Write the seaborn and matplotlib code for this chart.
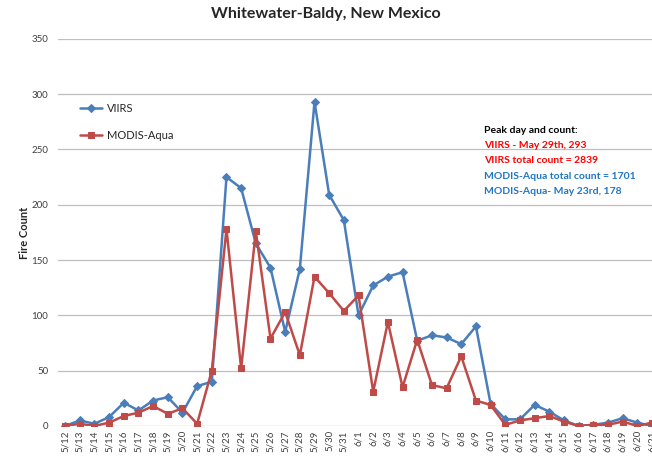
import pandas as pd
import matplotlib.pyplot as plt
import seaborn as sns

# daily fire counts, 5/12 - 6/21
dates = ['5/12', '5/13', '5/14', '5/15', '5/16', '5/17', '5/18', '5/19', '5/20', '5/21',
         '5/22', '5/23', '5/24', '5/25', '5/26', '5/27', '5/28', '5/29', '5/30', '5/31',
         '6/1', '6/2', '6/3', '6/4', '6/5', '6/6', '6/7', '6/8', '6/9', '6/10',
         '6/11', '6/12', '6/13', '6/14', '6/15', '6/16', '6/17', '6/18', '6/19', '6/20', '6/21']
viirs = [0, 5, 2, 8, 21, 14, 23, 26, 12, 36,
         40, 225, 215, 165, 143, 85, 142, 293, 209, 186,
         100, 127, 135, 139, 77, 82, 80, 74, 90, 20,
         6, 6, 19, 13, 5, 0, 1, 3, 7, 3, 0]
modis = [0, 2, 0, 3, 9, 12, 18, 11, 16, 2,
         50, 178, 52, 176, 79, 103, 64, 135, 120, 104,
         118, 31, 94, 35, 78, 37, 34, 63, 23, 19,
         1, 5, 7, 9, 4, 0, 1, 1, 4, 0, 3]

df = pd.DataFrame({'idx': range(len(dates)), 'VIIRS': viirs, 'MODIS-Aqua': modis})

sns.set_style('white')
plt.rcParams['font.family'] = ['Lato', 'DejaVu Sans']

fig = plt.figure(figsize=(6.52, 4.62), dpi=100)
ax = fig.add_axes([0.089, 0.078, 0.911, 0.838])

blue = '#4A7EBB'
red = '#BE4B48'
sns.lineplot(data=df, x='idx', y='VIIRS', ax=ax, color=blue, marker='D', markersize=4.5,
             markeredgecolor=blue, linewidth=1.8, label='VIIRS', zorder=3)
sns.lineplot(data=df, x='idx', y='MODIS-Aqua', ax=ax, color=red, marker='s', markersize=4.5,
             markeredgecolor=red, linewidth=1.8, label='MODIS-Aqua', zorder=3)

ax.set_xlim(-0.48, 40.0)
ax.set_ylim(0, 350)
ax.set_yticks(range(0, 351, 50))
ax.yaxis.grid(True, color='#BFBFBF', linewidth=0.9)
ax.set_axisbelow(True)
for s in ax.spines.values():
    s.set_visible(False)
ax.set_xticks(range(len(dates)))
ax.set_xticklabels(dates, rotation=90, fontsize=7, color='#404040')
ax.tick_params(axis='y', labelsize=7, colors='#404040', length=0, pad=7)
ax.tick_params(axis='x', length=0, pad=3)
ax.set_xlabel('')
ax.set_ylabel('Fire Count', fontsize=8, fontweight='bold')
ax.yaxis.set_label_coords(-0.047, 0.5)

fig.suptitle('Whitewater-Baldy, New Mexico', fontsize=11.5, fontweight='bold', y=0.985)

ax.legend(loc='upper left', bbox_to_anchor=(0.02, 0.86), frameon=False, fontsize=8,
          handlelength=2.0, handletextpad=0.4, labelspacing=1.4)

notes = [('Peak day and count:', 'black'),
         ('VIIRS - May 29th, 293', '#FF0000'),
         ('VIIRS total count = 2839', '#FF0000'),
         ('MODIS-Aqua total count = 1701', '#1F77C4'),
         ('MODIS-Aqua- May 23rd, 178', '#1F77C4')]
for i, (txt, c) in enumerate(notes):
    fig.text(0.742, 0.718 - i * 0.033, txt, color=c, fontsize=7.5, fontweight='bold', va='center')

plt.savefig('out.png', dpi=100)
